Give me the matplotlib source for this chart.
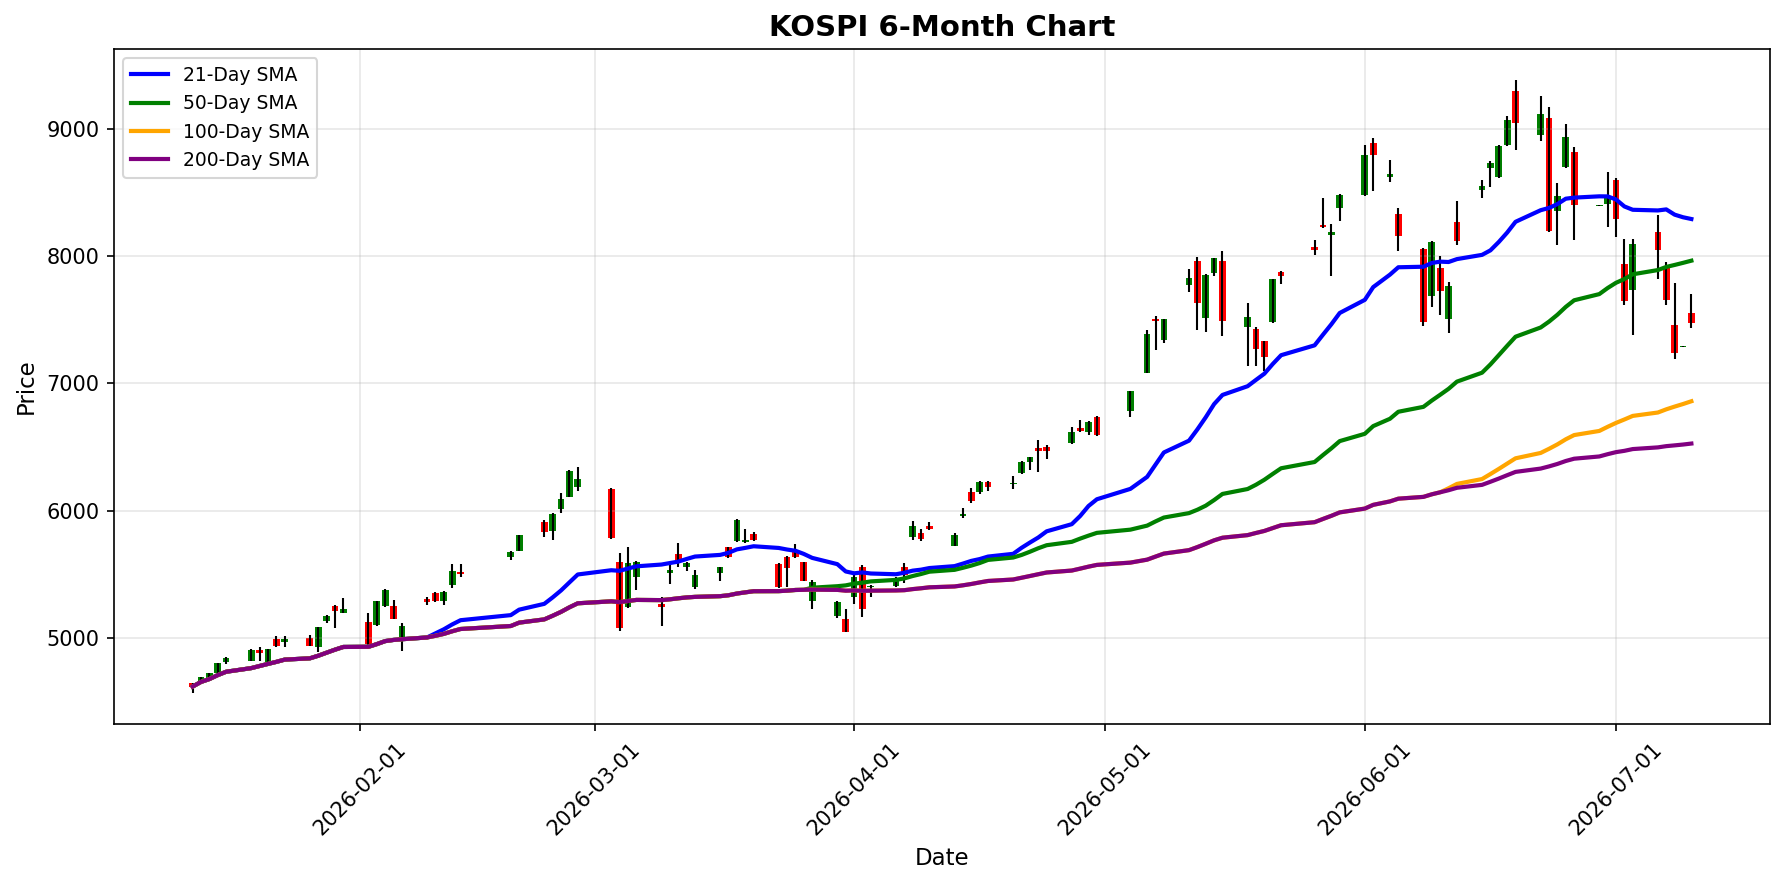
import pandas as pd
import matplotlib.pyplot as plt
import matplotlib.dates as mdates

dates = [
    "2026-01-12", "2026-01-13", "2026-01-14", "2026-01-15", "2026-01-16",
    "2026-01-19", "2026-01-20", "2026-01-21", "2026-01-22", "2026-01-23",
    "2026-01-26", "2026-01-27", "2026-01-28", "2026-01-29", "2026-01-30",
    "2026-02-02", "2026-02-03", "2026-02-04", "2026-02-05", "2026-02-06",
    "2026-02-09", "2026-02-10", "2026-02-11", "2026-02-12", "2026-02-13",
    "2026-02-19", "2026-02-20",
    "2026-02-23", "2026-02-24", "2026-02-25", "2026-02-26", "2026-02-27",
    "2026-03-03", "2026-03-04", "2026-03-05", "2026-03-06",
    "2026-03-09", "2026-03-10", "2026-03-11", "2026-03-12", "2026-03-13",
    "2026-03-16", "2026-03-17", "2026-03-18", "2026-03-19", "2026-03-20",
    "2026-03-23", "2026-03-24", "2026-03-25", "2026-03-26", "2026-03-27",
    "2026-03-30", "2026-03-31", "2026-04-01", "2026-04-02", "2026-04-03",
    "2026-04-06", "2026-04-07", "2026-04-08", "2026-04-09", "2026-04-10",
    "2026-04-13", "2026-04-14", "2026-04-15", "2026-04-16", "2026-04-17",
    "2026-04-20", "2026-04-21", "2026-04-22", "2026-04-23", "2026-04-24",
    "2026-04-27", "2026-04-28", "2026-04-29", "2026-04-30",
    "2026-05-04", "2026-05-06", "2026-05-07", "2026-05-08",
    "2026-05-11", "2026-05-12", "2026-05-13", "2026-05-14", "2026-05-15",
    "2026-05-18", "2026-05-19", "2026-05-20", "2026-05-21", "2026-05-22",
    "2026-05-26", "2026-05-27", "2026-05-28", "2026-05-29",
    "2026-06-01", "2026-06-02", "2026-06-04", "2026-06-05",
    "2026-06-08", "2026-06-09", "2026-06-10", "2026-06-11", "2026-06-12",
    "2026-06-15", "2026-06-16", "2026-06-17", "2026-06-18", "2026-06-19",
    "2026-06-22", "2026-06-23", "2026-06-24", "2026-06-25", "2026-06-26",
    "2026-06-29", "2026-06-30", "2026-07-01", "2026-07-02", "2026-07-03",
    "2026-07-06", "2026-07-07", "2026-07-08", "2026-07-09", "2026-07-10",
]

open_ = [
    4643, 4643, 4674, 4721, 4808, 4821, 4905, 4813, 4989, 4970,
    4997, 4926, 5133, 5251, 5198, 5125, 5101, 5251, 5251, 5010,
    5303, 5350, 5287, 5418, 5521, 5633, 5686,
    5911, 5843, 6016, 6110, 6189, 6171, 5597, 5240, 5481,
    5266, 5513, 5660, 5560, 5403, 5508, 5712, 5757, 5751, 5817,
    5581, 5639, 5678, 5594, 5293, 5175, 5148, 5324, 5555, 5400,
    5411, 5555, 5796, 5827, 5882, 5725, 5958, 6144, 6144, 6228,
    6207, 6294, 6380, 6490, 6498, 6529, 6647, 6616, 6739,
    6779, 7085, 7504, 7341, 7769, 7963, 7512, 7866, 7958,
    7441, 7428, 7329, 7478, 7874, 8071, 8244, 8162, 8377,
    8477, 8888, 8621, 8333, 8057, 7690, 7905, 7504, 8267,
    8521, 8692, 8618, 8875, 9300, 8949, 9085, 8351, 8697, 8817,
    8395, 8411, 8600, 7939, 7730, 8188, 7905, 7460, 7286, 7551,
]

high = [
    4648, 4695, 4725, 4805, 4852, 4913, 4926, 4912, 5015, 5015,
    5023, 5088, 5180, 5255, 5314, 5193, 5290, 5380, 5298, 5120,
    5324, 5363, 5371, 5581, 5581, 5686, 5812,
    5927, 5978, 6142, 6315, 6346, 6176, 5665, 5712, 5605,
    5319, 5586, 5743, 5599, 5534, 5558, 5717, 5930, 5856, 5833,
    5585, 5643, 5738, 5598, 5455, 5293, 5227, 5494, 5573, 5416,
    5481, 5586, 5919, 5856, 5908, 5827, 6018, 6176, 6230, 6230,
    6273, 6393, 6422, 6556, 6516, 6655, 6713, 6700, 6743,
    6940, 7420, 7530, 7508, 7900, 7992, 7856, 7987, 8042,
    7630, 7442, 7332, 7822, 7884, 8128, 8456, 8254, 8485,
    8875, 8927, 8757, 8377, 8060, 8120, 7997, 7800, 8435,
    8600, 8749, 8870, 9103, 9386, 9255, 9171, 8574, 9040, 8857,
    8401, 8660, 8615, 8133, 8133, 8325, 7952, 7787, 7292, 7703,
]

low = [
    4564, 4635, 4665, 4718, 4795, 4821, 4821, 4805, 4931, 4926,
    4935, 4892, 5120, 5075, 5198, 4945, 5095, 5245, 5145, 4900,
    5261, 5285, 5256, 5395, 5481, 5612, 5683,
    5791, 5770, 5984, 6105, 6150, 5778, 5054, 5235, 5377,
    5093, 5424, 5560, 5529, 5384, 5450, 5630, 5752, 5743, 5762,
    5395, 5397, 5630, 5447, 5224, 5154, 5042, 5266, 5167, 5319,
    5397, 5429, 5770, 5757, 5850, 5722, 5940, 6063, 6128, 6157,
    6170, 6290, 6315, 6307, 6404, 6527, 6621, 6595, 6588,
    6739, 7080, 7258, 7320, 7714, 7421, 7400, 7840, 7368,
    7138, 7138, 7093, 7475, 7780, 8010, 8220, 7840, 8272,
    8475, 8508, 8579, 8036, 7447, 7596, 7538, 7394, 8083,
    8456, 8540, 8613, 8867, 8830, 8901, 8190, 8083, 8695, 8128,
    8395, 8228, 8149, 7617, 7376, 7819, 7612, 7190, 7286, 7434,
]

close = [
    4617, 4690, 4721, 4800, 4839, 4905, 4879, 4910, 4939, 4989,
    4939, 5083, 5172, 5214, 5227, 4950, 5287, 5377, 5149, 5094,
    5282, 5290, 5361, 5523, 5500, 5678, 5809,
    5835, 5974, 6089, 6312, 6249, 5783, 5080, 5586, 5592,
    5245, 5534, 5612, 5586, 5494, 5555, 5633, 5927, 5770, 5770,
    5397, 5547, 5633, 5450, 5437, 5280, 5044, 5476, 5224, 5410,
    5468, 5494, 5880, 5775, 5853, 5809, 5974, 6079, 6228, 6184,
    6220, 6385, 6419, 6469, 6469, 6616, 6629, 6695, 6590,
    6936, 7389, 7486, 7504, 7827, 7635, 7853, 7984, 7486,
    7520, 7269, 7206, 7819, 7840, 8044, 8225, 8188, 8482,
    8797, 8796, 8647, 8154, 7478, 8107, 7722, 7766, 8115,
    8552, 8731, 8867, 9072, 9045, 9119, 8194, 8474, 8935, 8403,
    8401, 8469, 8293, 7643, 8097, 8044, 7651, 7242, 7292, 7473,
]

sma_windows = [21, 50, 100, 200]
sma_colors = ["blue", "green", "orange", "purple"]

df = pd.DataFrame({"Open": open_, "High": high, "Low": low, "Close": close},
                  index=pd.to_datetime(dates))

fig, ax = plt.subplots(figsize=(11.9, 5.9), dpi=150)
fig.subplots_adjust(left=114 / 1785, right=1770 / 1785,
                    bottom=1 - 724 / 885, top=1 - 49 / 885)

# candle bodies, then wicks on top
up = df["Close"] >= df["Open"]
colors = ["green" if u else "red" for u in up]
body_bottom = df[["Open", "Close"]].min(axis=1)
body_height = (df["Close"] - df["Open"]).abs()
ax.bar(df.index, body_height, bottom=body_bottom, width=0.8, color=colors)
ax.vlines(df.index, df["Low"], df["High"], color="black", linewidth=1)

for w, c in zip(sma_windows, sma_colors):
    sma = df["Close"].rolling(window=w, min_periods=1).mean()
    ax.plot(df.index, sma, color=c, linewidth=2, label=f"{w}-Day SMA")

ax.set_title("KOSPI 6-Month Chart", fontsize=14, fontweight="bold")
ax.set_xlabel("Date", fontsize=11)
ax.set_ylabel("Price", fontsize=11)
ax.legend(loc="upper left", fontsize=9)
ax.grid(True, alpha=0.3)
ax.xaxis.set_major_locator(mdates.MonthLocator())
ax.xaxis.set_major_formatter(mdates.DateFormatter("%Y-%m-%d"))
plt.setp(ax.get_xticklabels(), rotation=45)

fig.savefig("out.png", dpi=150)
